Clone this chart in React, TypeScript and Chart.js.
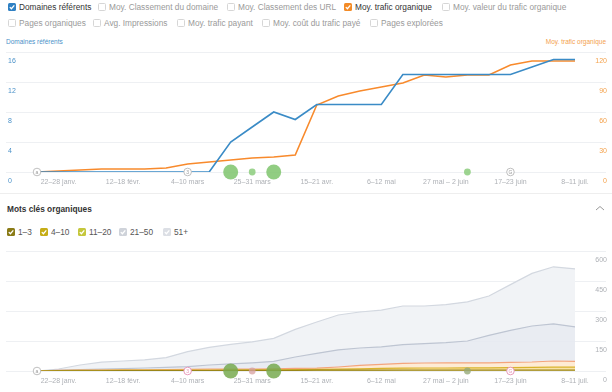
import React, { useEffect, useRef } from "react";
import { Chart, registerables } from "chart.js";

Chart.register(...registerables);

const FONT = "'Liberation Sans', Arial, Helvetica, sans-serif";

// Weekly categories (x axis)
const weeks = [
  "15–21 janv.", "22–28 janv.", "29 janv. – 4 févr.", "5–11 févr.", "12–18 févr.",
  "19–25 févr.", "26 févr. – 3 mars", "4–10 mars", "11–17 mars", "18–24 mars",
  "25–31 mars", "1–7 avr.", "8–14 avr.", "15–21 avr.", "22–28 avr.",
  "29 avr. – 5 mai", "6–12 mai", "13–19 mai", "20–26 mai", "27 mai – 2 juin",
  "3–9 juin", "10–16 juin", "17–23 juin", "24–30 juin", "1–7 juil.", "8–11 juil.",
];
const tickLabels = [
  "22–28 janv.", "12–18 févr.", "4–10 mars", "25–31 mars", "15–21 avr.",
  "6–12 mai", "27 mai – 2 juin", "17–23 juin", "8–11 juil.",
];

// Top chart series
const referringDomains = [0, 0, 0, 0, 0, 0, 0, 0, 0, 4, 6, 8, 7, 9, 9, 9, 9, 13, 13, 13, 13, 13, 13, 14, 15, 15];
const organicTraffic = [0, 1, 2, 3, 3, 3, 4, 8, 10, 12, 14, 15, 17, 67, 76, 81, 85, 89, 97, 95, 97, 97, 107, 111, 111, 111];
const leftTicks = [0, 4, 8, 12, 16];
const rightTicks = [0, 30, 60, 90, 120];

// Bottom chart series (organic keywords by position)
const kw1to3 = [0, 1, 1, 1, 2, 2, 2, 2, 2, 3, 3, 3, 3, 4, 4, 4, 4, 5, 5, 5, 5, 5, 5, 5, 5, 5];
const kw4to10 = [0, 1, 2, 2, 2, 2, 2, 3, 3, 2, 3, 3, 4, 4, 5, 7, 9, 9, 10, 10, 11, 11, 12, 13, 14, 14];
const kw11to20 = [0, 1, 1, 2, 2, 2, 3, 3, 4, 4, 4, 5, 6, 6, 11, 17, 20, 24, 25, 26, 25, 25, 26, 27, 31, 29];
const kw21to50 = [0, 1, 3, 4, 6, 9, 11, 14, 21, 27, 31, 37, 57, 74, 86, 87, 88, 94, 97, 101, 109, 137, 160, 180, 186, 173];
const kw51plus = [0, 6, 23, 35, 38, 41, 49, 75, 88, 97, 105, 115, 138, 157, 174, 180, 183, 193, 188, 190, 196, 197, 229, 263, 285, 290];
const kwTicks = [0, 150, 300, 450, 600];

// Annotation markers (week index + kind)
const markerWeeks = [0, 7, 9, 10, 11, 20, 22];
const markerKinds = ["a", "3", "big", "small", "big", "small", "G"];

const topLegendRow1 = ["Domaines référents", "Moy. Classement du domaine", "Moy. Classement des URL", "Moy. trafic organique", "Moy. valeur du trafic organique"];
const topLegendRow2 = ["Pages organiques", "Avg. Impressions", "Moy. trafic payant", "Moy. coût du trafic payé", "Pages explorées"];
const kwLegend = ["1–3", "4–10", "11–20", "21–50", "51+"];

const pts = (arr: number[]) => arr.map((v, i) => ({ x: i, y: v }));
const tickIdx = tickLabels.map((t) => weeks.indexOf(t));

function markerPlugin(variant: "top" | "bottom") {
  return {
    id: "markers-" + variant,
    afterDatasetsDraw(chart: any) {
      const { ctx, chartArea, scales } = chart;
      const y = chartArea.bottom;
      markerWeeks.forEach((w, k) => {
        const kind = markerKinds[k];
        const x = scales.x.getPixelForValue(w);
        ctx.save();
        ctx.beginPath();
        if (kind === "big") {
          ctx.arc(x, y, 7.5, 0, Math.PI * 2);
          ctx.fillStyle = variant === "top" ? "rgba(126,196,108,0.85)" : "rgba(120,170,80,0.85)";
          ctx.fill();
        } else if (kind === "small") {
          ctx.arc(x, y, 3.4, 0, Math.PI * 2);
          ctx.fillStyle =
            variant === "top"
              ? "rgba(140,205,125,0.85)"
              : w === 10
              ? "rgba(215,160,160,0.75)"
              : "rgba(150,170,120,0.8)";
          ctx.fill();
        } else {
          const pink = variant === "bottom" && kind !== "a";
          const col = pink ? "#e58fb4" : "#b8b8b8";
          ctx.arc(x, y, 3.8, 0, Math.PI * 2);
          ctx.fillStyle = "#fff";
          ctx.fill();
          ctx.lineWidth = 0.9;
          ctx.strokeStyle = col;
          ctx.stroke();
          ctx.fillStyle = pink ? "#e58fb4" : "#999";
          ctx.font = "5px " + FONT;
          ctx.textAlign = "center";
          ctx.textBaseline = "middle";
          ctx.fillText(kind, x, y + 0.3);
        }
        ctx.restore();
      });
    },
  };
}

const xScale = (height: number) => ({
  type: "linear" as const,
  min: -1.44,
  max: 26.44,
  grid: { display: false, drawTicks: false },
  border: { display: false },
  afterBuildTicks: (s: any) => {
    s.ticks = tickIdx.map((v) => ({ value: v }));
  },
  afterFit: (s: any) => {
    s.height = height;
  },
  ticks: {
    autoSkip: false,
    maxRotation: 0,
    padding: 6,
    color: "#aeb1b6",
    font: { size: 7, family: FONT },
    callback: (v: any) => weeks[v as number] ?? "",
  },
});

function TopChart() {
  const ref = useRef<HTMLCanvasElement>(null);
  useEffect(() => {
    const chart = new Chart(ref.current!, {
      type: "line",
      data: {
        datasets: [
          {
            label: "Domaines référents",
            data: pts(referringDomains),
            yAxisID: "y",
            borderColor: "#3a8bc6",
            borderWidth: 1.6,
            pointRadius: 0,
            tension: 0,
          },
          {
            label: "Moy. trafic organique",
            data: pts(organicTraffic),
            yAxisID: "y1",
            borderColor: "#f88a2c",
            borderWidth: 1.6,
            pointRadius: 0,
            tension: 0,
          },
        ],
      },
      options: {
        animation: false,
        responsive: false,
        maintainAspectRatio: false,
        layout: { padding: { top: 16, left: 6, right: 6, bottom: 0 } },
        plugins: { legend: { display: false }, tooltip: { enabled: false } },
        scales: {
          x: xScale(22) as any,
          y: {
            position: "left",
            min: 0,
            max: 16,
            afterBuildTicks: (s: any) => {
              s.ticks = leftTicks.map((v) => ({ value: v }));
            },
            afterFit: (s: any) => {
              s.width = 0;
            },
            ticks: { mirror: true, padding: 2, labelOffset: 9, color: "#4b92c9", font: { size: 7, family: FONT } },
            grid: { color: "#eef0f3", drawTicks: false },
            border: { display: false },
          },
          y1: {
            position: "right",
            min: 0,
            max: 120,
            afterBuildTicks: (s: any) => {
              s.ticks = rightTicks.map((v) => ({ value: v }));
            },
            afterFit: (s: any) => {
              s.width = 0;
            },
            ticks: { mirror: true, padding: 1, labelOffset: 9, color: "#f4a24c", font: { size: 7, family: FONT } },
            grid: { display: false, drawTicks: false },
            border: { display: false },
          },
        },
      },
      plugins: [markerPlugin("top")],
    });
    return () => chart.destroy();
  }, []);
  return <canvas ref={ref} width={612} height={158} style={{ position: "absolute", left: 0, top: 36, width: 612, height: 158 }} />;
}

function BottomChart() {
  const ref = useRef<HTMLCanvasElement>(null);
  useEffect(() => {
    const mk = (label: string, arr: number[], border: string, bg: string, fill: any) => ({
      label,
      data: pts(arr),
      borderColor: border,
      backgroundColor: bg,
      borderWidth: 1.2,
      pointRadius: 0,
      tension: 0,
      fill,
    });
    const chart = new Chart(ref.current!, {
      type: "line",
      data: {
        datasets: [
          mk("1–3", kw1to3, "#9a8618", "rgba(176,150,30,0.7)", "origin"),
          mk("4–10", kw4to10, "#d9b42c", "rgba(246,208,105,0.6)", "-1"),
          mk("11–20", kw11to20, "#f4a47c", "rgba(253,228,198,0.75)", "-1"),
          mk("21–50", kw21to50, "#bec5d2", "rgba(229,233,240,0.85)", "-1"),
          mk("51+", kw51plus, "#d3d8e0", "rgba(240,242,246,0.95)", "-1"),
        ],
      },
      options: {
        animation: false,
        responsive: false,
        maintainAspectRatio: false,
        layout: { padding: { top: 11, left: 6, right: 6, bottom: 0 } },
        plugins: { legend: { display: false }, tooltip: { enabled: false } },
        scales: {
          x: xScale(21) as any,
          y: {
            position: "right",
            stacked: true,
            min: 0,
            max: 600,
            afterBuildTicks: (s: any) => {
              s.ticks = kwTicks.map((v) => ({ value: v }));
            },
            afterFit: (s: any) => {
              s.width = 0;
            },
            ticks: { mirror: true, padding: 1, labelOffset: 9, color: "#aeb1b6", font: { size: 7, family: FONT } },
            grid: { color: "#eef0f3", drawTicks: false },
            border: { display: false },
          },
        },
      },
      plugins: [markerPlugin("bottom")],
    });
    return () => chart.destroy();
  }, []);
  return <canvas ref={ref} width={612} height={152} style={{ position: "absolute", left: 0, top: 240, width: 612, height: 152 }} />;
}

function Check({ x, y, color, checked }: { x: number; y: number; color?: string; checked: boolean }) {
  return (
    <span
      style={{
        position: "absolute",
        left: x,
        top: y - 4,
        width: 8,
        height: 8,
        borderRadius: 1.5,
        boxSizing: "border-box",
        background: checked ? color : "#fff",
        border: checked ? "none" : "1px solid #d6d6d6",
      }}
    >
      {checked && (
        <svg width={8} height={8} style={{ position: "absolute", left: 0, top: 0 }}>
          <polyline points="1.8,4.1 3.4,5.7 6.3,2.4" fill="none" stroke="#fff" strokeWidth={1.3} />
        </svg>
      )}
    </span>
  );
}

function Item({ x, y, label, color, checked, textColor, bold }: any) {
  return (
    <>
      <Check x={x} y={y} color={color} checked={checked} />
      <span
        style={{
          position: "absolute",
          left: x + 11,
          top: y - 6,
          height: 12,
          lineHeight: "12px",
          fontSize: 8.3,
          color: textColor,
          whiteSpace: "nowrap",
          fontWeight: bold ? 400 : 400,
        }}
      >
        {label}
      </span>
    </>
  );
}

export default function App() {
  const row1X = [8, 98, 227, 344, 442];
  const row1Colors: (string | null)[] = ["#2f80c3", null, null, "#f38b26", null];
  const row2X = [8, 93, 177, 262, 370];
  const kwX = [7, 40, 78, 119, 163];
  const kwColors = ["#8a7b16", "#c6ad17", "#c5c73c", "#cfd3da", "#dcdfe5"];
  return (
    <div
      style={{
        position: "fixed",
        left: 0,
        top: 0,
        width: 612,
        height: 392,
        background: "#fff",
        fontFamily: FONT,
        overflow: "hidden",
      }}
    >
      {topLegendRow1.map((l, i) => (
        <Item
          key={"r1" + i}
          x={row1X[i]}
          y={7}
          label={l}
          color={row1Colors[i] ?? undefined}
          checked={!!row1Colors[i]}
          textColor={row1Colors[i] ? "#333" : "#9a9a9a"}
        />
      ))}
      {topLegendRow2.map((l, i) => (
        <Item key={"r2" + i} x={row2X[i]} y={23} label={l} checked={false} textColor="#9a9a9a" />
      ))}
      <span style={{ position: "absolute", left: 6, top: 38, fontSize: 6.5, color: "#4b92c9", whiteSpace: "nowrap" }}>
        Domaines référents
      </span>
      <span style={{ position: "absolute", right: 6, top: 38, fontSize: 6.5, color: "#f4a24c", whiteSpace: "nowrap" }}>
        Moy. trafic organique
      </span>
      <TopChart />
      <div style={{ position: "absolute", left: 0, top: 193, width: 612, height: 1, background: "#eeeeee" }} />
      <span style={{ position: "absolute", left: 7, top: 204, fontSize: 8.3, fontWeight: 700, color: "#333", whiteSpace: "nowrap" }}>
        Mots clés organiques
      </span>
      <svg width={10} height={6} style={{ position: "absolute", left: 595, top: 205 }}>
        <polyline points="1,5 5,1.5 9,5" fill="none" stroke="#9a9a9a" strokeWidth={1} />
      </svg>
      {kwLegend.map((l, i) => (
        <Item key={"kw" + i} x={kwX[i]} y={232} label={l} color={kwColors[i]} checked={true} textColor="#555" />
      ))}
      <BottomChart />
    </div>
  );
}
